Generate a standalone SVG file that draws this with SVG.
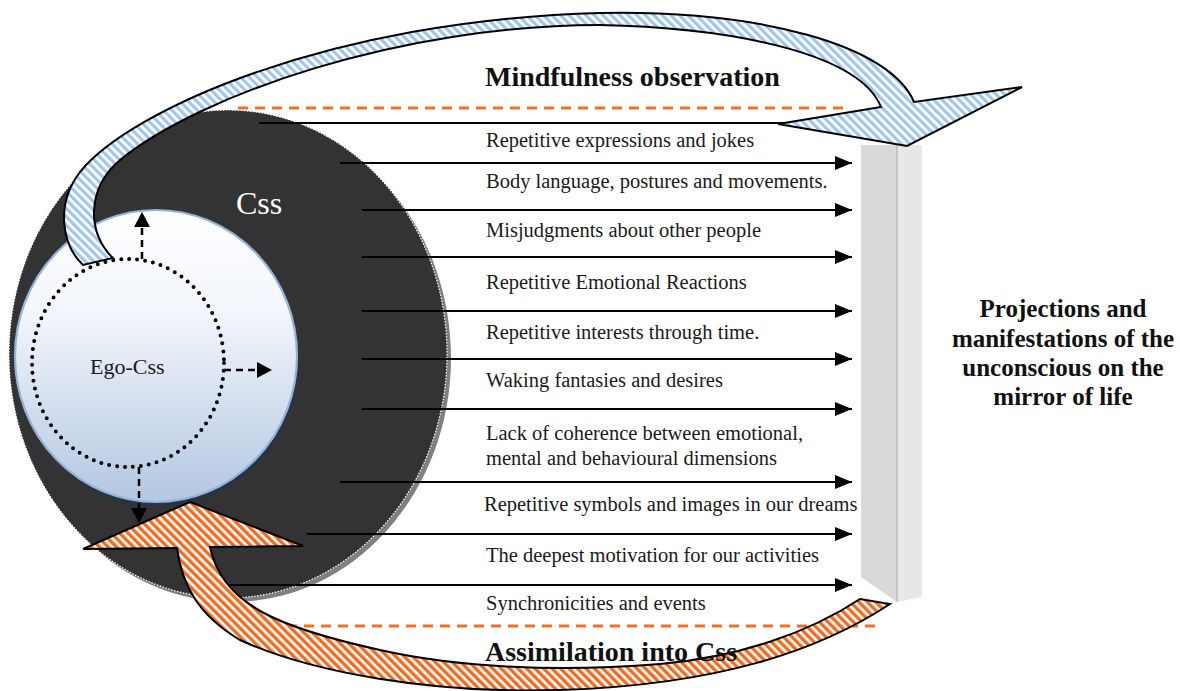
<svg xmlns="http://www.w3.org/2000/svg" width="1180" height="691" viewBox="0 0 1180 691">
<style>
.lbl{font-family:"Liberation Serif","Times New Roman",serif;font-size:20.5px;fill:#1a1a1a}
.ttl{font-family:"Liberation Serif","Times New Roman",serif;font-size:28px;font-weight:bold;fill:#111}
.side{font-family:"Liberation Serif","Times New Roman",serif;font-size:25px;font-weight:bold;fill:#111}
.ln{stroke:#000;stroke-width:2.2;fill:none}
.dsh{stroke:#000;stroke-width:2.5;stroke-dasharray:7 5;fill:none}
.orange{stroke:#f37021;stroke-width:3;stroke-dasharray:10 7;fill:none}
</style>
<defs>
<marker id="ah" markerUnits="userSpaceOnUse" markerWidth="17" markerHeight="14" refX="17" refY="7" orient="auto">
<path d="M0,0 L17,7 L0,14 Z" fill="#000"/>
</marker>
<marker id="ahs" markerUnits="userSpaceOnUse" markerWidth="15" markerHeight="16" refX="15" refY="8" orient="auto">
<path d="M0,0 L15,8 L0,16 Z" fill="#000"/>
</marker>
<pattern id="pblue" width="6" height="6" patternUnits="userSpaceOnUse" patternTransform="rotate(-45)">
<rect width="6" height="6" fill="#ffffff"/>
<rect width="3.2" height="6" fill="#9ec6ef"/>
</pattern>
<pattern id="porange" width="6" height="6" patternUnits="userSpaceOnUse" patternTransform="rotate(-45)">
<rect width="6" height="6" fill="#ffffff"/>
<rect width="3.4" height="6" fill="#f26b1f"/>
</pattern>
<linearGradient id="gego" x1="0" y1="0" x2="0" y2="1">
<stop offset="0" stop-color="#ffffff"/>
<stop offset="0.35" stop-color="#f2f6fb"/>
<stop offset="1" stop-color="#b3c7e1"/>
</linearGradient>
</defs>

<g id="css">
<ellipse cx="232" cy="358" rx="219" ry="244" fill="#808080"/>
<ellipse cx="228" cy="354" rx="219" ry="244" fill="#333333" stroke="#ffffff" stroke-width="1.2" stroke-dasharray="1.5 1.5"/>
<text x="236" y="214" font-family="Liberation Serif, Times New Roman, serif" font-size="32" fill="#ffffff">Css</text>
</g>

<g id="ego-css">
<ellipse cx="158" cy="360" rx="141" ry="146" fill="#23344a"/>
<ellipse cx="156" cy="356" rx="141" ry="146" fill="url(#gego)" stroke="#95b3d7" stroke-width="2.2"/>
<ellipse cx="128" cy="363" rx="96" ry="104" fill="none" stroke="#000" stroke-width="4" stroke-linecap="round" stroke-dasharray="0 8"/>
<text x="90" y="374" font-family="Liberation Serif, Times New Roman, serif" font-size="22" fill="#1a1a1a">Ego-Css</text>
</g>

<g id="mirror">
<path d="M861,145 L897,145 L897,602 L861,577 Z" fill="#d9d9d9"/>
<path d="M897,145 L922,145 L922,597 L897,602 Z" fill="#e7e7e7"/>
<line x1="897" y1="145" x2="897" y2="602" stroke="#bdbdbd" stroke-width="1.5"/>
</g>

<g id="dividers">
<line class="orange" x1="238" y1="108" x2="846" y2="108"/>
<line class="orange" x1="287" y1="626" x2="877" y2="626"/>
</g>

<g id="connectors">
<line class="ln" x1="259" y1="123" x2="800" y2="123"/>
<line class="ln" x1="340" y1="163" x2="852" y2="163" marker-end="url(#ah)"/>
<line class="ln" x1="362" y1="210" x2="852" y2="210" marker-end="url(#ah)"/>
<line class="ln" x1="362" y1="257" x2="852" y2="257" marker-end="url(#ah)"/>
<line class="ln" x1="362" y1="311" x2="852" y2="311" marker-end="url(#ah)"/>
<line class="ln" x1="362" y1="359" x2="852" y2="359" marker-end="url(#ah)"/>
<line class="ln" x1="362" y1="409" x2="852" y2="409" marker-end="url(#ah)"/>
<line class="ln" x1="340" y1="482" x2="852" y2="482" marker-end="url(#ah)"/>
<line class="ln" x1="307" y1="534" x2="852" y2="534" marker-end="url(#ah)"/>
<line class="ln" x1="220" y1="585" x2="852" y2="585" marker-end="url(#ah)"/>
<line class="dsh" x1="142" y1="259" x2="142" y2="212" marker-end="url(#ahs)"/>
<line class="dsh" x1="224" y1="370" x2="272" y2="370" marker-end="url(#ahs)"/>
<line class="dsh" x1="139" y1="467" x2="139" y2="523" marker-end="url(#ahs)"/>
<path id="mindfulness-arrow" d="M83,265 C62,245 55,205 80,172 C130,110 330,20 600,13 C760,10 890,45 914,102 L1022,87 L907,146 L778,124 L881,107 C860,55 740,28 600,25 C400,25 200,95 120,160 C85,190 88,235 113,258 Z" fill="url(#pblue)" stroke="#000" stroke-width="2" stroke-linejoin="miter"/>
<path id="assimilation-arrow" d="M190,502 L303,546 L210,547 C222,605 280,628 380,650 C460,668 560,672 660,664 C740,657 810,632 860,599 L890,604 C820,650 720,685 560,690 C430,694 310,672 240,640 C198,615 182,585 177,548 L83,549 Z" fill="url(#porange)" stroke="#000" stroke-width="2"/>
</g>

<g id="labels">
<text class="lbl" x="486" y="147">Repetitive expressions and jokes</text>
<text class="lbl" x="486" y="188">Body language, postures and movements.</text>
<text class="lbl" x="486" y="237">Misjudgments about other people</text>
<text class="lbl" x="486" y="289">Repetitive Emotional Reactions</text>
<text class="lbl" x="486" y="339">Repetitive interests through time.</text>
<text class="lbl" x="486" y="387">Waking fantasies and desires</text>
<text class="lbl" x="486" y="440">Lack of coherence between emotional,</text>
<text class="lbl" x="486" y="465">mental and behavioural dimensions</text>
<text class="lbl" x="484" y="511">Repetitive symbols and images in our dreams</text>
<text class="lbl" x="486" y="562">The deepest motivation for our activities</text>
<text class="lbl" x="486" y="610">Synchronicities and events</text>
</g>

<g id="titles">
<text class="ttl" x="485" y="86">Mindfulness observation</text>
<text class="ttl" x="485" y="661">Assimilation into Css</text>
<text class="side" text-anchor="middle" x="1063" y="317">Projections and</text>
<text class="side" text-anchor="middle" x="1063" y="347">manifestations of the</text>
<text class="side" text-anchor="middle" x="1063" y="376">unconscious on the</text>
<text class="side" text-anchor="middle" x="1063" y="405">mirror of life</text>
</g>
</svg>
